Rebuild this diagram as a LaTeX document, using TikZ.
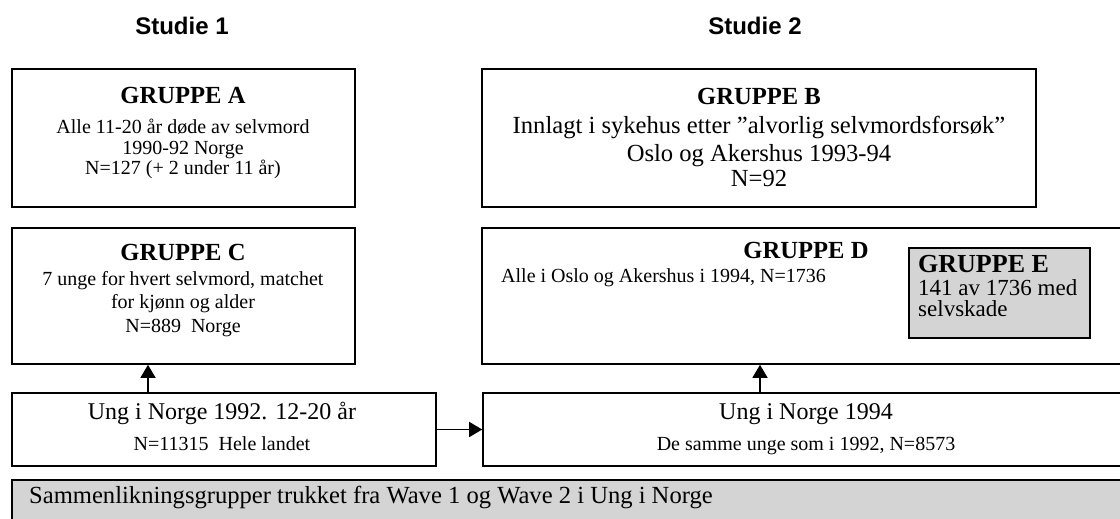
\documentclass[tikz,border=0pt]{standalone}
\usepackage{fontspec}
\setmainfont{Liberation Serif}
\setsansfont{Liberation Sans}
\usetikzlibrary{arrows.meta}

\begin{document}
\begin{tikzpicture}[x=1pt,y=-1pt,
        box/.style={rectangle,draw=black,line width=1.6pt,inner sep=0pt},
        shade box/.style={box,fill=black!17},
        txt/.style={anchor=base,inner sep=0pt},
        head/.style={txt,font=\sffamily\bfseries\fontsize{24}{28}\selectfont},
        grp/.style={txt,font=\bfseries\fontsize{24.6}{28}\selectfont},
        body/.style={txt,font=\fontsize{20}{24}\selectfont},
        big/.style={txt,font=\fontsize{24.6}{28}\selectfont},
        arr/.style={-{Triangle[length=13pt,width=15pt]},line width=1.4pt}]

    \useasboundingbox (0,0) rectangle (1120,519);
    \clip (0,0) rectangle (1120,519);

    % column heads
    \node[head] (S1) at (182,35) {Studie 1};
    \node[head] (S2) at (755,35) {Studie 2};

    % boxes
    \node[box, minimum width=343, minimum height=138] (grpA) at (183.5,138) {};
    \node[box, minimum width=554, minimum height=138] (grpB) at (759,138) {};
    \node[box, minimum width=343, minimum height=136] (grpC) at (183.5,296) {};
    \node[box, minimum width=653, minimum height=136] (grpD) at (808.5,296) {};
    \node[shade box, minimum width=181, minimum height=90] (grpE) at (999.5,293) {};
    \node[box, minimum width=424, minimum height=73] (ung92) at (224,429.5) {};
    \node[box, minimum width=652, minimum height=73] (ung94) at (809,429.5) {};
    \node[shade box, minimum width=1123, minimum height=50] (wave) at (573.5,505) {};

    % gruppe A
    \node[grp] (tA) at (183,103) {GRUPPE A};
    \node[body] (tA1) at (183,133) {Alle 11-20 år døde av selvmord};
    \node[body] (tA2) at (183,154) {1990-92 Norge};
    \node[body] (tA3) at (183,174) {N=127 (+ 2 under 11 år)};

    % gruppe B
    \node[grp] (tB) at (759,105) {GRUPPE B};
    \node[big] (tB1) at (759,133) {Innlagt i sykehus etter ”alvorlig selvmordsforsøk”};
    \node[big] (tB2) at (759,161) {Oslo og Akershus 1993-94};
    \node[big] (tB3) at (759,186) {N=92};

    % gruppe C
    \node[grp] (tC) at (183,260) {GRUPPE C};
    \node[body] (tC1) at (183,285) {7 unge for hvert selvmord, matchet};
    \node[body] (tC2) at (183,308) {for kjønn og alder};
    \node[body] (tC3) at (183,332) {N=889\ \ Norge};

    % gruppe D and E
    \node[grp] (tD) at (806,258) {GRUPPE D};
    \node[body, anchor=base west] (tD1) at (501,282) {Alle i Oslo og Akershus i 1994, N=1736};
    \node[grp, anchor=base west, font=\bfseries\fontsize{26}{30}\selectfont] (tE) at (918,272) {GRUPPE E};
    \node[body, anchor=base west, font=\fontsize{23}{26}\selectfont] (tE1) at (918,295) {141 av 1736 med};
    \node[body, anchor=base west, font=\fontsize{23}{26}\selectfont] (tE2) at (918,316) {selvskade};

    % ung i norge
    \node[big, font=\fontsize{24}{28}\selectfont] (tU1) at (222,419) {Ung i Norge 1992. 12-20 år};
    \node[body] (tU2) at (222,450) {N=11315\ \ Hele landet};
    \node[big, font=\fontsize{24}{28}\selectfont] (tV1) at (806,419) {Ung i Norge 1994};
    \node[body] (tV2) at (806,450) {De samme unge som i 1992, N=8573};

    \node[big, anchor=base west] (tW) at (29,503) {Sammenlikningsgrupper trukket fra Wave 1 og Wave 2 i Ung i Norge};

    % arrows
    \coordinate (cC) at (148,0);
    \coordinate (cD) at (760,0);
    \draw[arr] (cC |- ung92.north) -- (cC |- grpC.south);
    \draw[arr] (cD |- ung94.north) -- (cD |- grpD.south);
    \draw[arr] (ung92) -- (ung94);

\end{tikzpicture}
\end{document}
